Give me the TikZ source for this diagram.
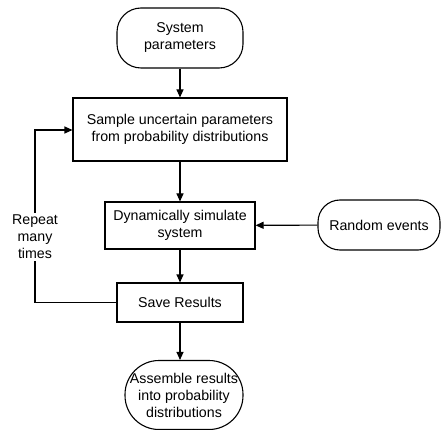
\documentclass[tikz,border=0pt]{standalone}
\usepackage{fontspec}
\setmainfont{Liberation Sans}
\usetikzlibrary{arrows.meta}
\begin{document}
\begin{tikzpicture}[x=1pt,y=-1pt,
  every node/.style={font=\fontsize{14.2}{17}\selectfont, align=center, inner sep=0pt},
  box/.style={draw, line width=1.1pt, minimum width=#1},
  term/.style={draw, line width=1.1pt, rounded corners=24pt},
  conn/.style={line width=1.1pt, -{Triangle[length=8pt,width=7pt]}},
  plain/.style={line width=1.1pt}]
\useasboundingbox (0,0) rectangle (441,430);
\node[term, minimum width=126pt, minimum height=60pt] (sys) at (180,38) {System\\parameters};
\node[box=214pt, minimum height=63pt] (sample) at (180,129.5) {Sample uncertain parameters\\from probability distributions};
\node[box=150pt, minimum height=47pt] (dyn) at (180,225.5) {Dynamically simulate\\system};
\node[term, rounded corners=22pt, minimum width=122pt, minimum height=50pt] (rand) at (379,225) {Random events};
\node[box=126pt, minimum height=39pt] (save) at (180,302.5) {Save Results};
\node[draw, line width=1.1pt, rounded corners=34pt, minimum width=118pt, minimum height=69pt] (asm) at (184,395) {Assemble results\\into probability\\distributions};
\coordinate (lb) at (35,302.5);
\coordinate (lt) at (35,130);
\node[inner sep=2pt] (rep) at (35,237) {Repeat\\many\\times};
\draw[conn] (sys) -- (sample);
\draw[conn] (sample) -- (dyn);
\draw[conn] (rand) -- (dyn);
\draw[conn] (dyn) -- (save);
\draw[conn] (save.south) -- (save.south |- asm.north);
\draw[plain] (save.west) -- (lb) -- (rep.south);
\draw[conn] (rep.north) -- (lt) -- (sample.west |- lt);
\end{tikzpicture}
\end{document}
